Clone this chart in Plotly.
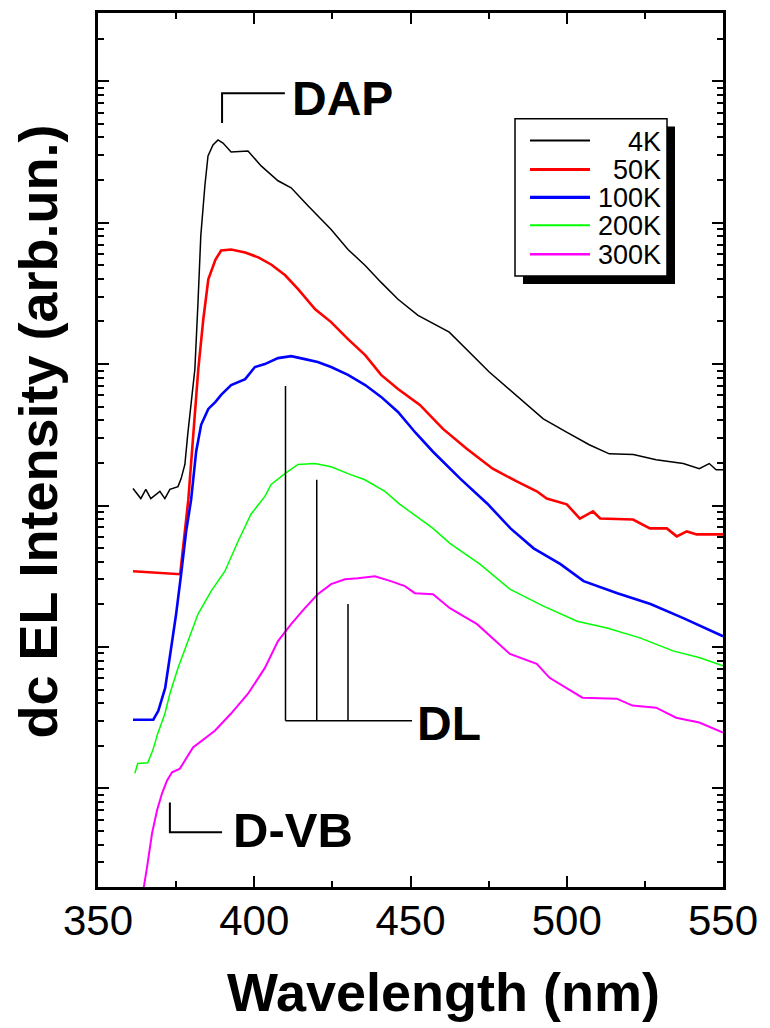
import math
import plotly.graph_objects as go

# ---------------- data (wavelength in nm, dc EL intensity in arb. units) ----------------
wl_4K = [361.2, 363.7, 365.3, 366.9, 369.8, 371.4, 373.0, 375.6, 376.6, 377.8, 378.7, 379.7,
         381.0, 382.0, 382.9, 384.2, 385.2, 386.8, 388.4, 390.0, 392.6, 398.0, 402.2, 407.6,
         411.8, 417.2, 424.6, 430.0, 435.5, 440.6, 446.0, 452.4, 462.4, 475.2, 483.8, 492.5,
         499.8, 507.2, 513.6, 521.3, 528.6, 537.3, 542.4, 545.6, 547.8, 550.0]
int_4K = [132, 112, 130, 112, 126, 112, 130, 136, 155, 195, 316, 482,
          923, 2735, 8090, 18240, 29650, 35400, 38460, 36560, 31620, 32140, 25180, 19770,
          17620, 13180, 8930, 6460, 4980, 3780, 2870, 2210, 1680, 879, 605, 410,
          332, 269, 232, 229, 211, 198, 182, 198, 179, 179]

wl_50K = [361.2, 376.3, 378.9, 380.6, 382.1, 383.7, 385.3, 387.6, 389.4, 392.6, 397.1, 401.3,
          405.4, 409.9, 414.1, 419.5, 424.6, 430.0, 435.5, 440.6, 446.0, 453.0, 460.4, 468.0,
          476.3, 484.0, 490.4, 493.6, 500.0, 504.2, 508.4, 510.7, 521.2, 526.6, 532.0, 535.2,
          538.4, 541.6, 550.0]
int_50K = [34.3, 32.7, 110, 316, 923, 2075, 3970, 5480, 6350, 6460, 6150, 5680,
           5060, 4240, 3370, 2440, 1980, 1500, 1156, 838, 667, 514, 348, 252,
           182, 148, 126, 112, 102, 80.9, 90.8, 80.9, 79.6, 68.9, 68.9, 60.5,
           65.6, 62.5, 62.5]

wl_100K = [361.2, 367.7, 369.3, 371.5, 373.4, 375.0, 376.6, 378.2, 379.8, 381.4, 383.0, 385.3,
           387.6, 389.4, 392.6, 397.1, 400.2, 403.4, 407.6, 411.8, 416.2, 420.3, 424.6, 430.0,
           435.5, 440.6, 446.0, 451.6, 457.2, 465.9, 474.6, 482.0, 489.4, 498.0, 505.4, 516.2,
           526.8, 537.3, 550.0]
int_100K = [3.06, 3.06, 3.54, 5.14, 9.84, 17.1, 32.7, 65.6, 110, 240, 372, 482,
            540, 605, 711, 783, 953, 1000, 1102, 1138, 1084, 1033, 953, 838,
            711, 586, 459, 327, 240, 155, 103, 68.9, 49.8, 38.5, 29.2, 24.0,
            20.1, 16.0, 11.9]

wl_200K = [361.8, 362.7, 365.9, 367.5, 369.1, 371.4, 373.0, 375.6, 378.8, 382.0, 386.2, 390.6,
           394.8, 398.9, 403.4, 405.4, 409.8, 414.0, 419.4, 424.6, 430.0, 435.4, 441.8, 446.6,
           457.2, 462.6, 472.2, 481.8, 492.4, 503.3, 512.9, 523.4, 534.0, 542.6, 550.0]
int_200K = [1.28, 1.50, 1.52, 1.85, 2.44, 3.37, 4.67, 7.11, 11.0, 17.1, 24.8, 34.3,
            55.7, 86.5, 116, 141, 168, 195, 198, 188, 168, 152, 126, 102,
            68.9, 54.0, 38.5, 25.6, 19.5, 15.2, 13.6, 11.6, 9.38, 8.38, 7.35]

wl_300K = [361.8, 364.4, 365.7, 367.3, 368.9, 370.5, 372.1, 373.7, 376.2, 380.4, 387.4, 392.5,
           398.0, 403.4, 407.6, 411.8, 416.2, 420.3, 424.6, 429.0, 433.2, 438.6, 443.7, 448.2,
           451.4, 457.2, 462.6, 471.3, 481.8, 490.4, 494.5, 505.0, 516.0, 521.0, 528.6, 535.0,
           542.4, 550.0]
int_300K = [0.138, 0.185, 0.278, 0.482, 0.700, 0.923, 1.14, 1.30, 1.38, 1.95, 2.56, 3.37,
            4.67, 7.11, 11.0, 14.5, 18.8, 23.6, 27.8, 30.1, 30.6, 31.6, 29.2, 26.9,
            24.0, 23.6, 18.8, 14.5, 8.93, 7.59, 6.05, 4.38, 4.31, 3.85, 3.72, 3.16,
            2.92, 2.48]

series_names = ["4K", "50K", "100K", "200K", "300K"]

# annotation markers (nm, intensity)
dap_x = [389.7, 389.7, 409.8]
dap_y = [50600, 82200, 82200]
dvb_x = [373.0, 373.0, 389.7]
dvb_y = [0.796, 0.490, 0.490]
dl_line_x = [410.0, 420.0, 430.0]
dl_line_top = [700, 152, 20.1]
dl_base = 3.01
dl_base_end = 450.5

x_ticks = [350, 400, 450, 500, 550]
x_minor = [375, 425, 475, 525]
y_decades = [1, 10, 100, 1000, 1e4, 1e5]

# ---------------- styling / layout ----------------
colors = ["#000000", "#ff0000", "#0000ff", "#00ff00", "#ff00ff"]
widths = [1.5, 2.6, 2.6, 1.5, 2.0]
FONT = "Liberation Sans, Arial, sans-serif"

# page geometry (page pixels; page has an 8px body margin)
PL, PR, PT, PB = 98, 723, 10, 887


def px_x(px):
    return (px - PL) / (PR - PL)


def px_y(py):
    return (PB - py) / (PB - PT)


fig = go.Figure()
xs = [wl_4K, wl_50K, wl_100K, wl_200K, wl_300K]
ys = [int_4K, int_50K, int_100K, int_200K, int_300K]
for x, y, name, c, w in zip(xs, ys, series_names, colors, widths):
    fig.add_trace(go.Scatter(x=x, y=y, mode="lines", name=name, showlegend=False,
                             line=dict(color=c, width=w)))

# bracket / marker lines
fig.add_trace(go.Scatter(x=dap_x, y=dap_y, mode="lines", showlegend=False, hoverinfo="skip",
                         line=dict(color="black", width=2)))
fig.add_trace(go.Scatter(x=dvb_x, y=dvb_y, mode="lines", showlegend=False, hoverinfo="skip",
                         line=dict(color="black", width=2)))
for lx, lt in zip(dl_line_x, dl_line_top):
    fig.add_trace(go.Scatter(x=[lx, lx], y=[lt, dl_base], mode="lines", showlegend=False,
                             hoverinfo="skip", line=dict(color="black", width=1.5)))
fig.add_trace(go.Scatter(x=[dl_line_x[0], dl_base_end], y=[dl_base, dl_base], mode="lines",
                         showlegend=False, hoverinfo="skip", line=dict(color="black", width=1.5)))

ann_font = dict(family=FONT, size=48, color="black")
fig.add_annotation(x=411.4, y=math.log10(dap_y[1]) - 0.035, xref="x", yref="y", text="<b>DAP</b>",
                   showarrow=False, xanchor="left", yanchor="middle", font=ann_font)
fig.add_annotation(x=451.4, y=math.log10(dl_base) - 0.02, xref="x", yref="y", text="<b>DL</b>",
                   showarrow=False, xanchor="left", yanchor="middle", font=ann_font)
fig.add_annotation(x=392.6, y=math.log10(dvb_y[1]) + 0.015, xref="x", yref="y", text="<b>D-VB</b>",
                   showarrow=False, xanchor="left", yanchor="middle", font=dict(family=FONT, size=49))

# axis titles
fig.add_annotation(x=px_x(443), y=px_y(992), xref="paper", yref="paper",
                   text="<b>Wavelength (nm)</b>", showarrow=False, xanchor="center",
                   yanchor="middle", font=dict(family=FONT, size=54, color="black"))
fig.add_annotation(x=px_x(38), y=px_y(430), xref="paper", yref="paper",
                   text="<b>dc EL Intensity (arb.un.)</b>", showarrow=False, textangle=-90,
                   xanchor="center", yanchor="middle",
                   font=dict(family=FONT, size=54, color="black"))

# legend box with drop shadow
LB_L, LB_R, LB_T, LB_B = 515, 667, 116, 274
SH = 8
fig.add_shape(type="rect", xref="paper", yref="paper",
              x0=px_x(LB_L + SH), x1=px_x(LB_R + SH), y0=px_y(LB_B + SH), y1=px_y(LB_T + SH),
              fillcolor="black", line=dict(width=0), layer="above")
fig.add_shape(type="rect", xref="paper", yref="paper",
              x0=px_x(LB_L), x1=px_x(LB_R), y0=px_y(LB_B), y1=px_y(LB_T),
              fillcolor="white", line=dict(color="black", width=1.5), layer="above")
row_y = [138, 167, 195, 223, 252]
for name, c, w, ry in zip(series_names, colors, widths, row_y):
    fig.add_shape(type="line", xref="paper", yref="paper", x0=px_x(530), x1=px_x(590),
                  y0=px_y(ry), y1=px_y(ry), line=dict(color=c, width=w + 0.5), layer="above")
    fig.add_annotation(x=px_x(663), y=px_y(ry + 1), xref="paper", yref="paper", text=name,
                       showarrow=False, xanchor="right", yanchor="middle",
                       font=dict(family=FONT, size=27, color="black"))

minor_vals = [m * d for d in [0.1, 1, 10, 100, 1000, 1e4, 1e5] for m in range(2, 10)]

fig.update_layout(
    width=762, height=1020,
    margin=dict(l=PL - 8, r=(762 + 8) - PR, t=PT - 8, b=(1020 + 8) - PB),
    paper_bgcolor="white", plot_bgcolor="white",
    font=dict(family=FONT, color="black"),
    showlegend=False,
    xaxis=dict(range=[350, 550], tickvals=x_ticks, ticks="inside", ticklen=11, tickwidth=2,
               tickcolor="black", showline=True, linecolor="black", linewidth=2.5,
               mirror="allticks", showgrid=False, zeroline=False, ticklabelstandoff=-5,
               tickfont=dict(family=FONT, size=42, color="black"),
               minor=dict(tickmode="array", tickvals=x_minor, ticks="inside", ticklen=6,
                          tickwidth=2, tickcolor="black", showgrid=False)),
    yaxis=dict(type="log", range=[-0.697, 5.482], tickvals=y_decades, showticklabels=False,
               ticks="inside", ticklen=11, tickwidth=2, tickcolor="black",
               showline=True, linecolor="black", linewidth=2.5, mirror="allticks",
               showgrid=False, zeroline=False,
               minor=dict(tickmode="array", tickvals=minor_vals, ticks="inside", ticklen=6,
                          tickwidth=2, tickcolor="black", showgrid=False)),
)

fig.write_html("out.html")
